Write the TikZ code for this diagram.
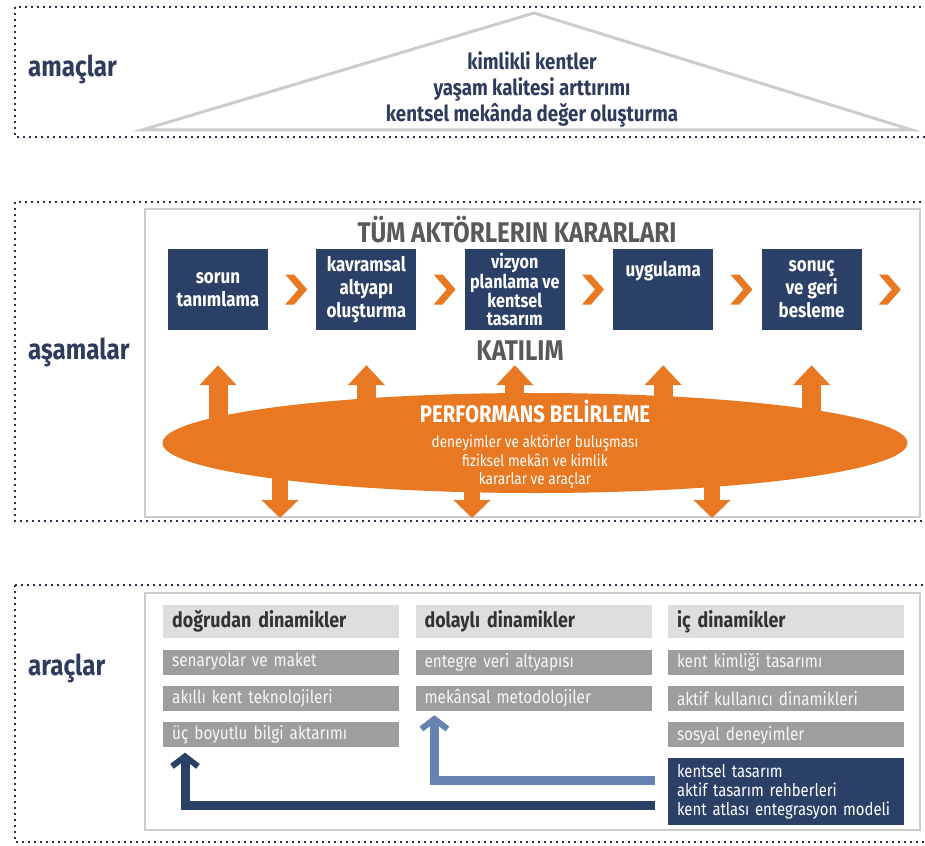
\documentclass[tikz,border=0pt]{standalone}
\usepackage{fontspec}
\setmainfont[FakeStretch=0.85]{Fira Sans}
\usepackage{tikz}
\usetikzlibrary{arrows.meta}
\usetikzlibrary{positioning}
\usetikzlibrary{shapes.geometric}
\definecolor{mnavy}{rgb}{0.17, 0.25, 0.40}
\definecolor{mdark}{rgb}{0.18, 0.23, 0.36}
\definecolor{morange}{rgb}{0.91, 0.47, 0.13}
\definecolor{mlblue}{rgb}{0.40, 0.51, 0.69}
\definecolor{mgray}{rgb}{0.62, 0.62, 0.62}
\definecolor{mlgray}{rgb}{0.87, 0.87, 0.87}
\definecolor{mframe}{rgb}{0.80, 0.80, 0.80}
\definecolor{mtext}{rgb}{0.35, 0.35, 0.35}
\definecolor{mdot}{rgb}{0.16, 0.18, 0.27}
\tikzset{dotframe/.style = {mdot, line width = 2pt, dash pattern = on 2pt off 4pt}}
\tikzset{innerframe/.style = {mframe, line width = 2pt}}
\tikzset{seclabel/.style = {text = mdark, anchor = west, inner sep = 0, font = \bfseries\fontsize{28.5}{30}\selectfont}}
\tikzset{goaltext/.style = {text = mdark, align = center, font = \bfseries\fontsize{22}{26}\selectfont}}
\tikzset{stepbox/.style = {fill = mnavy, text = white, minimum width = 100pt, minimum height = 81pt, inner sep = 2pt, align = center, font = \bfseries\fontsize{20}{23}\selectfont}}
\tikzset{steptitle/.style = {text = mtext, font = \bfseries\fontsize{28.5}{30}\selectfont}}
\tikzset{perf/.style = {ellipse, fill = morange, minimum width = 745pt, minimum height = 100pt, inner sep = 0}}
\tikzset{perftext/.style = {text = white, align = center, font = \fontsize{16}{18.5}\selectfont}}
\tikzset{uparrow/.style = {morange, line width = 19pt, -{Triangle[length = 20pt, width = 36pt]}}}
\tikzset{downarrow/.style = {morange, line width = 16pt, -{Triangle[length = 18pt, width = 36pt]}}}
\tikzset{hdr/.style = {fill = mlgray, text = black!80, text width = 218pt, inner xsep = 9pt, minimum height = 33pt, align = left, font = \bfseries\fontsize{21}{21}\selectfont}}
\tikzset{row/.style = {fill = mgray, text = white!92!mgray, text width = 218pt, inner xsep = 9pt, inner ysep = 0, minimum height = 25pt, align = left, font = \fontsize{18}{18}\selectfont}}
\tikzset{tools/.style = {fill = mnavy, text = white, text width = 218pt, inner xsep = 9pt, minimum height = 67pt, align = left, font = \fontsize{17.5}{19}\selectfont}}
\tikzset{backarrow/.style = {line width = 9pt, -{Straight Barb[length = 10pt, width = 26pt, line width = 6pt]}}}
\begin{document}
\begin{tikzpicture}[x = 1pt, y = -1pt]
      \useasboundingbox (0, 0) rectangle (925, 845);
      \draw [dotframe] (15, 7) rectangle (935, 137);
      \draw [dotframe] (15, 202) rectangle (935, 521);
      \draw [dotframe] (15, 585) rectangle (935, 842);
      \draw [innerframe] (145, 209) rectangle (920, 517);
      \draw [innerframe] (145, 593) rectangle (920, 830);

      \node [seclabel] (goallbl) at (28, 69) {amaçlar};
      \node [seclabel] (steplbl) at (28, 352) {aşamalar};
      \node [seclabel] (toollbl) at (28, 668) {araçlar};

      \draw [mframe, line width = 3pt] (142, 130) -- (534, 13) -- (912, 130) -- cycle;
      \node [goaltext] (goals) at (532, 89) {kimlikli kentler\\yaşam kalitesi arttırımı\\kentsel mekânda değer oluşturma};

      \node [steptitle] (decisions) at (517, 230) {TÜM AKTÖRLERIN KARARLARI};
      \node [stepbox] (s1) at (218, 289.5) {sorun\\tanımlama};
      \node [stepbox, right = 48pt of s1] (s2) {kavramsal\\altyapı\\oluşturma};
      \node [stepbox, right = 48pt of s2, font = \bfseries\fontsize{19}{18}\selectfont] (s3) {vizyon\\planlama ve\\kentsel\\tasarım};
      \node [stepbox, right = 48pt of s3, text height = 14pt, text depth = 40pt] (s4) {uygulama};
      \node [stepbox, right = 48pt of s4] (s5) {sonuç\\ve geri\\besleme};
      \foreach \b in {s1, s2, s3, s4, s5}
        \fill [morange] (\b.east) ++(17, -15) -- ++(9, 0) -- ++(13, 15) -- ++(-13, 15) -- ++(-9, 0) -- ++(13, -15) -- cycle;
      \node [steptitle] (katilim) at (520, 351) {KATILIM};

      \coordinate (pc) at (535, 443);
      \coordinate (d1) at (280, 518);
      \coordinate (d2) at (472, 518);
      \coordinate (d3) at (712, 518);
      \foreach \b in {s1, s2, s3, s4, s5}
        \draw [uparrow] (pc -| \b.south) -- ([yshift = -35pt]\b.south);
      \foreach \d in {d1, d2, d3}
        \draw [downarrow] (pc -| \d) -- (\d);
      \node [perf] (perf) at (pc) {};
      \node [perftext] (perftxt) at (535, 444) {{\fontsize{24}{24}\selectfont\bfseries PERFORMANS BELİRLEME}\\[7pt]deneyimler ve aktörler buluşması\\fiziksel mekân ve kimlik\\kararlar ve araçlar};

      \node [hdr, anchor = north west] (h1) at (163, 605) {doğrudan dinamikler};
      \node [hdr, right = 16pt of h1] (h2) {dolaylı dinamikler};
      \node [hdr, right = 16pt of h2] (h3) {iç dinamikler};
      \node [row, below = 11pt of h1] (r11) {senaryolar ve maket};
      \node [row, below = 11pt of r11] (r12) {akıllı kent teknolojileri};
      \node [row, below = 11pt of r12] (r13) {üç boyutlu bilgi aktarımı};
      \node [row, below = 11pt of h2] (r21) {entegre veri altyapısı};
      \node [row, below = 11pt of r21] (r22) {mekânsal metodolojiler};
      \node [row, below = 11pt of h3] (r31) {kent kimliği tasarımı};
      \node [row, below = 11pt of r31] (r32) {aktif kullanıcı dinamikleri};
      \node [row, below = 11pt of r32] (r33) {sosyal deneyimler};
      \node [tools, below = 10pt of r33] (tools) {kentsel tasarım\\aktif tasarım rehberleri\\kent atlası entegrasyon modeli};

      \draw [backarrow, mlblue] ([xshift = -13pt, yshift = 11pt]tools.west) -| ([xshift = 19pt, yshift = -4pt]r22.south west);
      \draw [backarrow, mnavy] ([xshift = -13pt, yshift = -14pt]tools.west) -| ([xshift = 22pt, yshift = -5pt]r13.south west);
    \end{tikzpicture}
\end{document}
